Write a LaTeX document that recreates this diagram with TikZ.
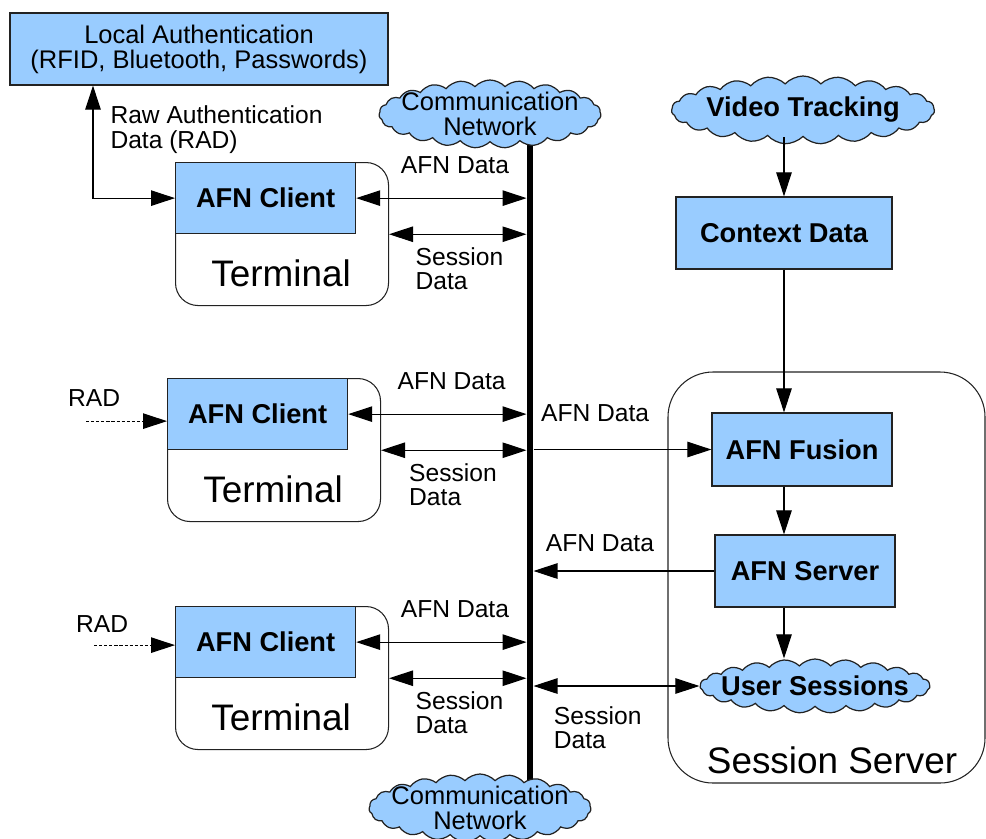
\documentclass[tikz,border=0pt]{standalone}
\usepackage{fontspec}
\setmainfont{Liberation Sans}
\usetikzlibrary{positioning,calc,arrows.meta,shapes.symbols}
\definecolor{cFill}{HTML}{99CCFF}
\definecolor{cInk}{HTML}{222222}
\tikzset{
  blockbox/.style={draw=cInk, fill=cFill, line width=0.7pt, inner sep=0pt,
    minimum width=3.6cm, minimum height=1.44cm, align=center,
    font=\fontsize{15.5}{16}\selectfont\bfseries},
  hostbox/.style={draw=cInk, line width=0.6pt, rounded corners=#1, inner sep=0pt},
  netcloud/.style={cloud, cloud puffs=23, cloud puff arc=95, draw=cInk, fill=cFill,
    line width=0.7pt, inner sep=0pt, align=center},
  hostlabel/.style={font=\fontsize{21}{22}\selectfont, inner sep=0pt},
  lbl/.style={font=\fontsize{14}{13.8}\selectfont, inner sep=0pt, align=left},
  arr/.style={-{Triangle[length=4.8mm,width=3.1mm]}, line width=0.6pt},
  dblarr/.style={{Triangle[length=4.8mm,width=3.1mm]}-{Triangle[length=4.8mm,width=3.1mm]}, line width=0.6pt},
  radarr/.style={arr, dash pattern=on 1.8pt off 1.1pt, line width=0.7pt},
  busline/.style={line width=3.4pt},
}
\newcommand{\ctr}[1]{\makebox[0pt]{#1}}

\begin{document}
\begin{tikzpicture}
  \useasboundingbox (0,0) rectangle (19.72,-16.76);

  % ---------- session server ----------
  \node[hostbox=0.9cm, minimum width=6.34cm, minimum height=8.22cm] (sserver) at (16.53,-11.55) {};
  \node[hostlabel] (sslabel) at (16.64,-15.2) {Session Server};

  % ---------- terminals ----------
  \foreach \i/\x/\y in {1/3.5/-3.24, 2/3.34/-7.56, 3/3.5/-12.12} {
    \node[hostbox=0.45cm, anchor=north west, minimum width=4.26cm, minimum height=2.86cm] (term\i) at (\x,\y) {};
    \node[blockbox, anchor=north west, minimum height=1.42cm] (client\i) at (\x,\y) {AFN Client};
    \node[hostlabel] (tlabel\i) at ($(term\i.north west)+(2.12,-2.22)$) {Terminal};
  }

  % ---------- local authentication ----------
  \node[blockbox, font=\fontsize{14.5}{14.2}\selectfont, minimum width=7.56cm] (auth) at (3.98,-0.98)
    {Local Authentication\\(RFID, Bluetooth, Passwords)};

  % ---------- network ----------
  \coordinate (bustop) at (10.6,-2.6);
  \coordinate (busbot) at (10.6,-15.7);
  \coordinate (busl) at (10.53,0);
  \coordinate (busr) at (10.67,0);
  \draw[busline] (bustop) -- (busbot);
  \node[netcloud, minimum width=4.44cm, minimum height=1.36cm, font=\fontsize{14.5}{14.2}\selectfont] (net1) at (9.8,-2.28)
    {\ctr{Communication}\\\ctr{Network}};
  \node[netcloud, minimum width=4.44cm, minimum height=1.36cm, font=\fontsize{14.5}{14.2}\selectfont] (net2) at (9.6,-16.16)
    {\ctr{Communication}\\\ctr{Network}};

  % ---------- right column ----------
  \node[netcloud, minimum width=5.26cm, minimum height=1.36cm, font=\fontsize{15.5}{16}\selectfont\bfseries] (video) at (16.06,-2.2)
    {\ctr{Video Tracking}};
  \node[blockbox, minimum width=4.32cm] (ctx) at (15.68,-4.66) {Context Data};
  \node[blockbox, minimum height=1.46cm] (fusion) at (16.04,-8.99) {AFN Fusion};
  \node[blockbox] (server) at (16.1,-11.42) {AFN Server};
  \node[netcloud, minimum width=4.6cm, minimum height=1.08cm, font=\fontsize{15.5}{16}\selectfont\bfseries] (usess) at (16.3,-13.72)
    {\ctr{User Sessions}};

  % ---------- arrows ----------
  \coordinate (radx) at (1.86,0);
  \draw[dblarr] (auth.south -| radx) |- node[lbl, pos=0, anchor=north west, xshift=0.34cm, yshift=-0.4cm] (radlbl)
    {Raw Authentication\\Data (RAD)} (client1.west);

  \foreach \i in {1,2,3} {
    \draw[dblarr] (client\i.east) -- node[lbl, pos=0.58, above=0.47cm] (afnlbl\i) {AFN Data} (client\i.east -| busl);
    \draw[dblarr] (term\i.east |- client\i.south) -- node[lbl, pos=0.19, anchor=north west, yshift=-0.26cm] (seslbl\i)
      {Session\\Data} (client\i.south -| busl);
  }
  \foreach \i/\dy/\dl in {2/-0.14/0.28, 3/-0.06/0.24} {
    \draw[radarr] ([xshift=-1.62cm, yshift=\dy cm]client\i.west) -- node[lbl, pos=0.1, above=\dl cm] (radin\i) {RAD}
      ([yshift=\dy cm]client\i.west);
  }

  \draw[arr] (video.south -| ctx.north) -- (ctx.north);
  \draw[arr] (ctx.south) -- (ctx.south |- fusion.north);
  \draw[arr] (fusion.south -| ctx.south) -- (server.north -| ctx.south);
  \draw[arr] (server.south -| ctx.south) -- (usess.north -| ctx.south);

  \draw[arr] (fusion.west -| busr) -- node[lbl, pos=0.04, anchor=south west, yshift=0.55cm] (fuslbl) {AFN Data} (fusion.west);
  \draw[arr] (server.west) -- node[lbl, pos=0.934, anchor=south west, yshift=0.37cm] (srvlbl) {AFN Data} (server.west -| busr);
  \draw[dblarr] (usess.west -| busr) -- node[lbl, pos=0.12, anchor=north west, yshift=-0.4cm] (usslbl)
    {Session\\Data} (usess.west);

\end{tikzpicture}
\end{document}
